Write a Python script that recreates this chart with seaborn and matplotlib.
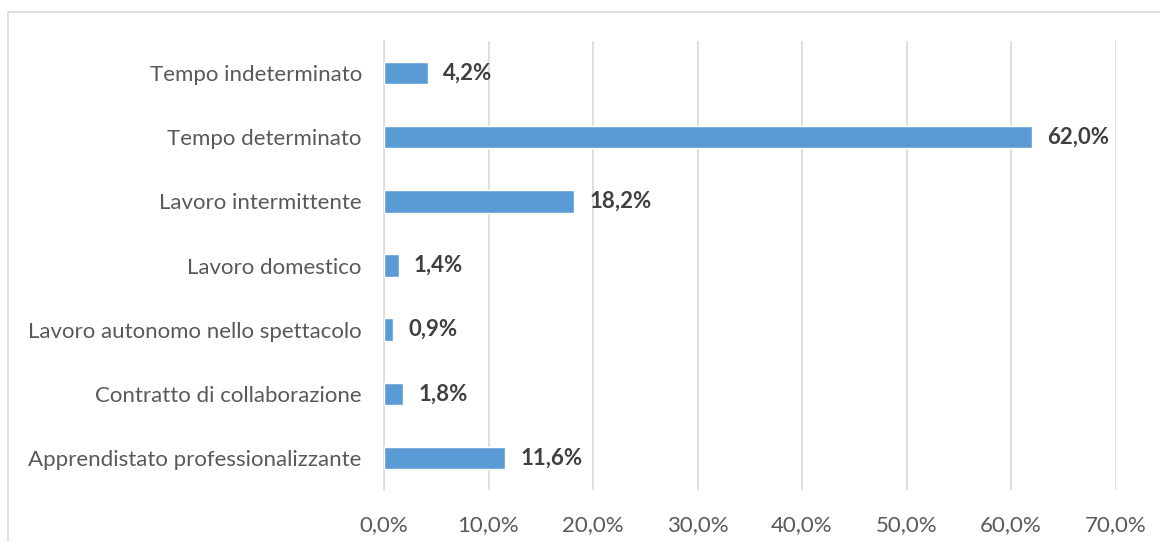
import matplotlib
matplotlib.use("Agg")
import matplotlib.pyplot as plt
import seaborn as sns
import pandas as pd
from matplotlib.patches import Rectangle

categories = [
    "Tempo indeterminato",
    "Tempo determinato",
    "Lavoro intermittente",
    "Lavoro domestico",
    "Lavoro autonomo nello spettacolo",
    "Contratto di collaborazione",
    "Apprendistato professionalizzante",
]
values = [4.2, 62.0, 18.2, 1.4, 0.9, 1.8, 11.6]
xticks = [0, 10, 20, 30, 40, 50, 60, 70]

sns.set_theme(style="white")
plt.rcParams["font.family"] = ["Lato", "DejaVu Sans"]

df = pd.DataFrame({"cat": categories, "val": values})

fig = plt.figure(figsize=(11.6, 5.42), dpi=100)
ax = fig.add_axes([384 / 1160, 1 - 490 / 542, (1115.5 - 384) / 1160, (490 - 41) / 542])

sns.barplot(data=df, x="val", y="cat", orient="h", color="#5B9BD5",
            saturation=1, width=0.35, ax=ax, zorder=3)

ax.set_xlim(0, 70)
ax.set_xticks(xticks)
ax.set_xticklabels([f"{t:.1f}%".replace(".", ",") for t in xticks])
ax.grid(axis="x", color="#D9D9D9", linewidth=1.2, zorder=0)
ax.set_axisbelow(True)
for s in ax.spines.values():
    s.set_visible(False)
ax.spines["left"].set_visible(True)
ax.spines["left"].set_color("#D9D9D9")
ax.spines["left"].set_linewidth(1.2)
ax.set_xlabel("")
ax.set_ylabel("")
ax.tick_params(axis="x", length=0, pad=18, labelsize=16, labelcolor="#595959")
ax.tick_params(axis="y", length=0, pad=16, labelsize=16, labelcolor="#595959")

for i, v in enumerate(values):
    ax.annotate(f"{v:.1f}%".replace(".", ","), xy=(v, i), xytext=(11, 0),
                textcoords="offset points", va="center", ha="left",
                fontsize=16, fontweight="bold", color="#404040")

fig.patches.append(Rectangle((8 / 1160, -0.05), 1.2, 1 - 12 / 542 + 0.05,
                             transform=fig.transFigure, fill=False,
                             edgecolor="#D9D9D9", linewidth=1.2))

fig.savefig("out.png", dpi=100, facecolor="white")
